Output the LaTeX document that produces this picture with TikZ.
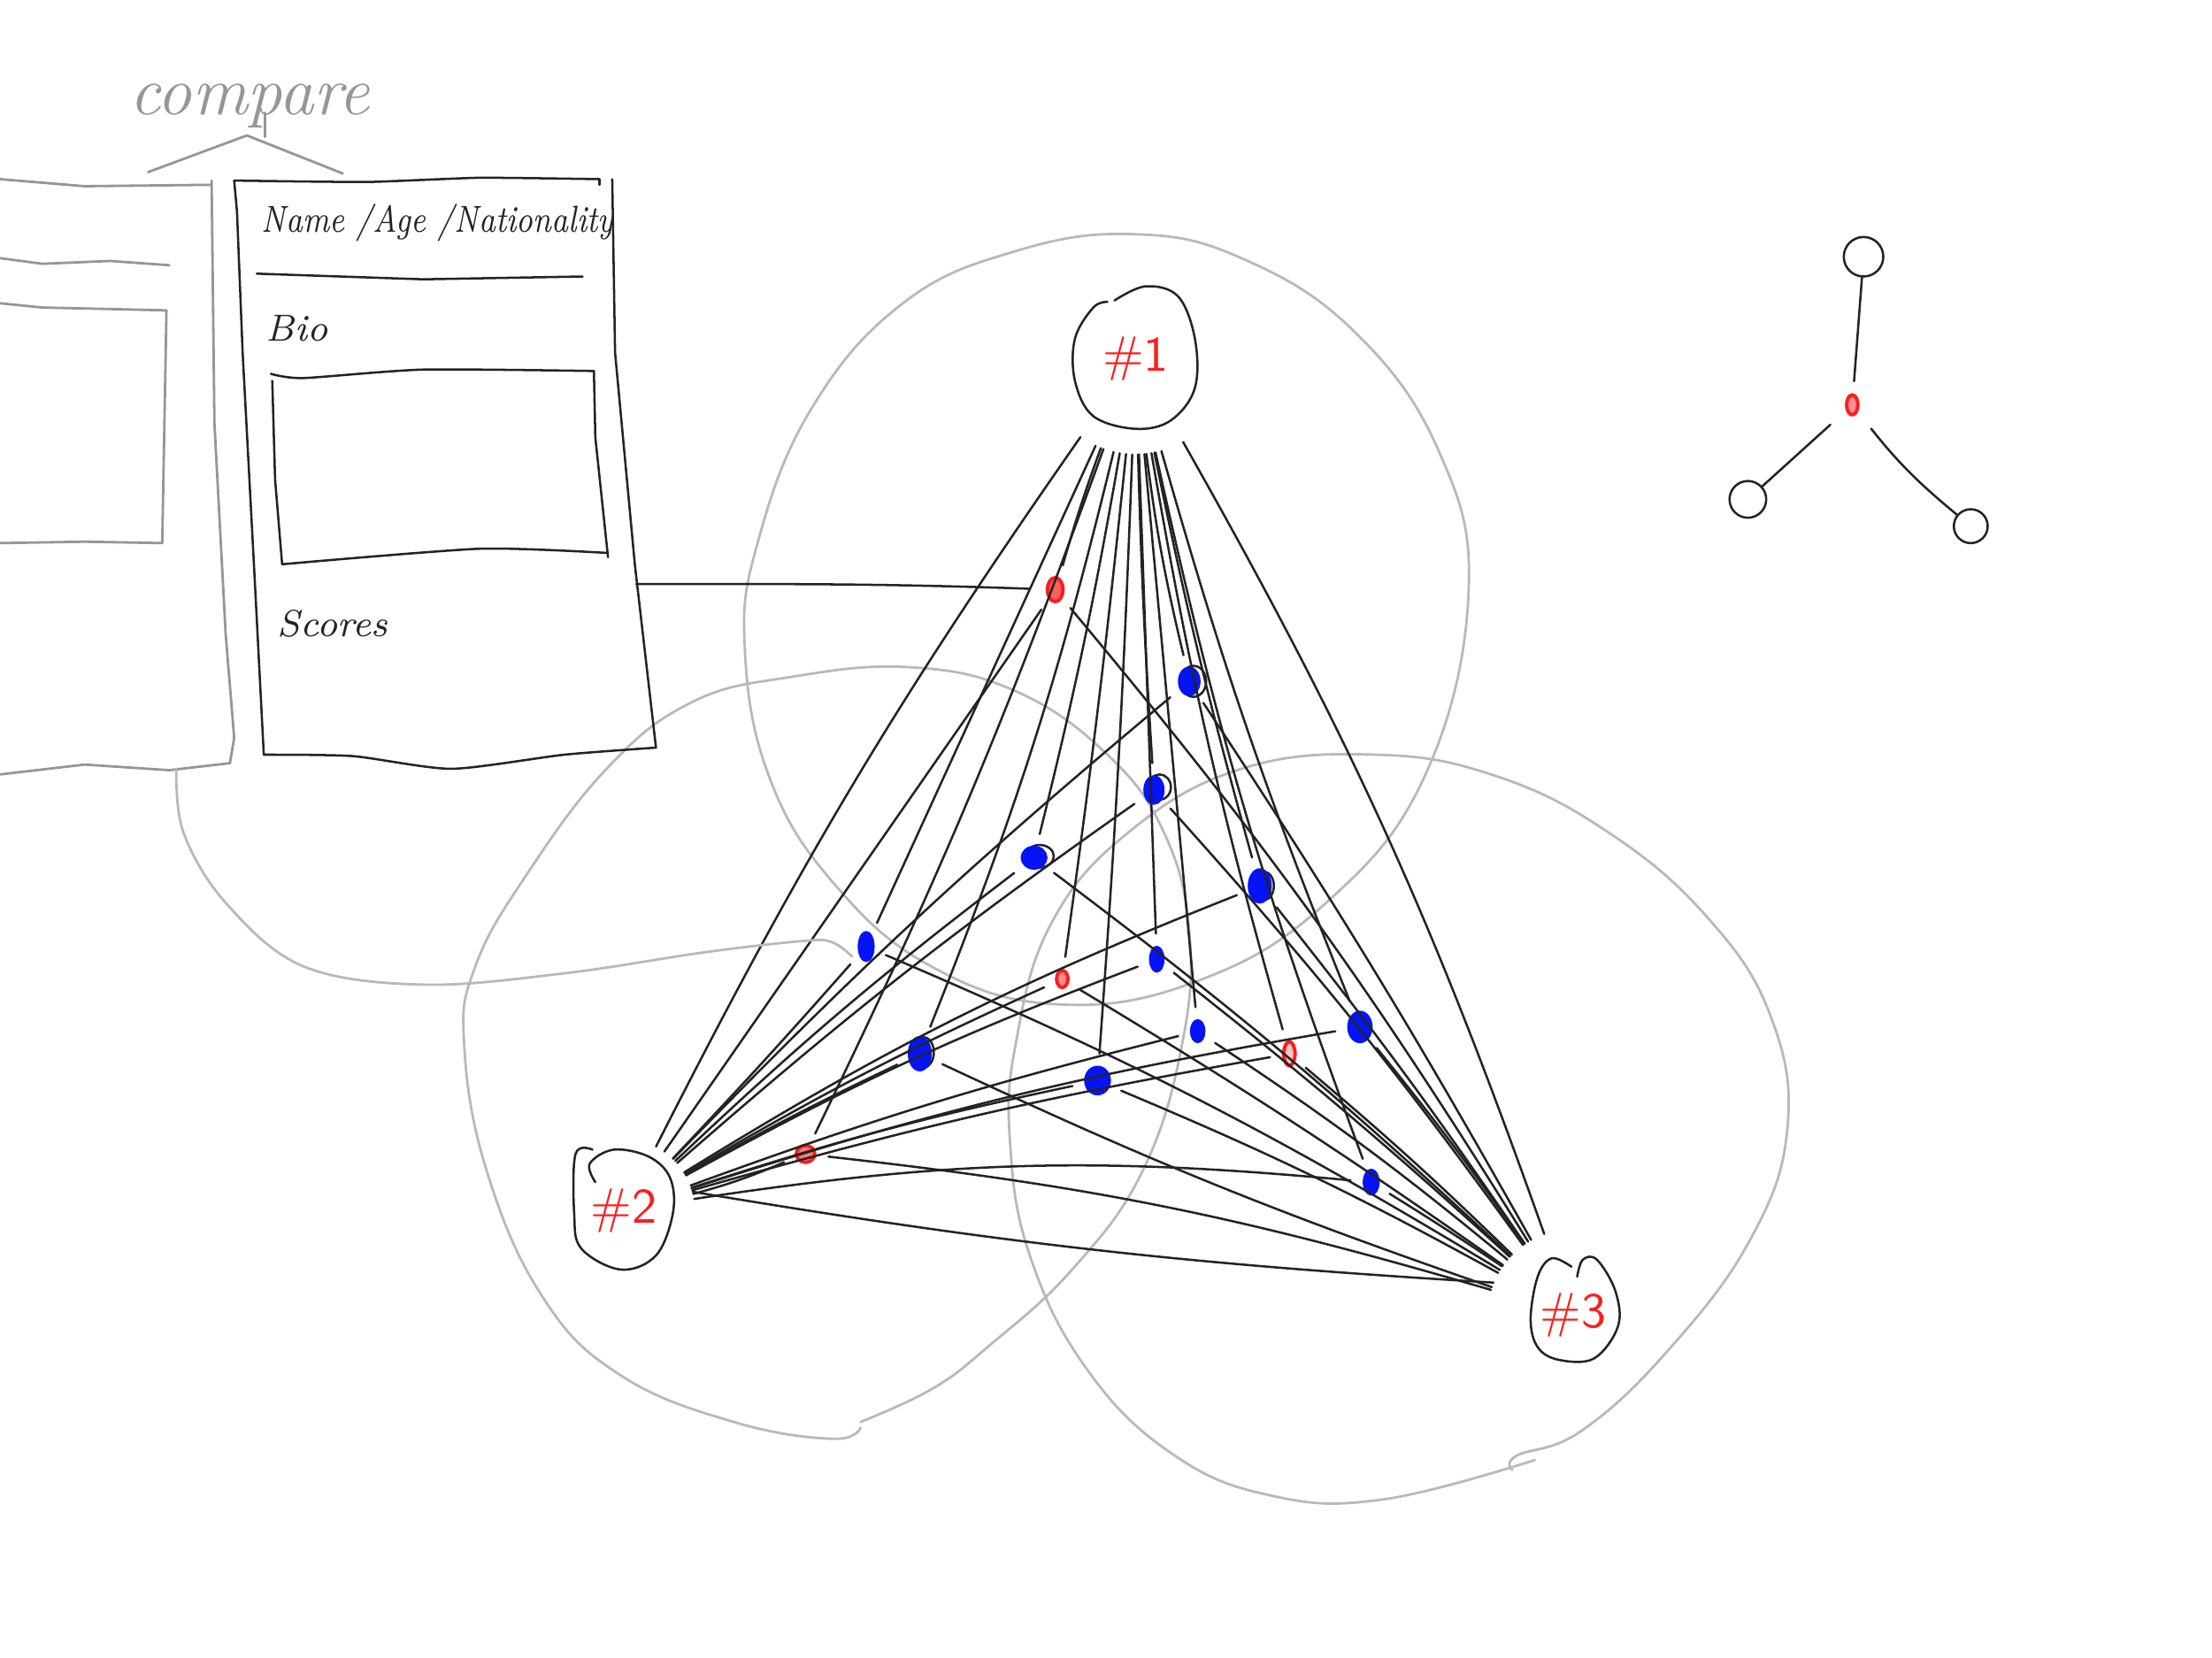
\documentclass[tikz,border=0pt]{standalone}
\usepackage{xcolor}
\usepackage{tikz}
\usetikzlibrary{
  shapes.geometric,
  positioning
}
\definecolor{inkblack}{RGB}{35, 35, 35}
\definecolor{inkgray}{RGB}{185, 185, 185}
\definecolor{cardgray}{RGB}{150, 150, 150}
\definecolor{spotblue}{RGB}{5, 20, 245}
\definecolor{spotred}{RGB}{250, 30, 30}
\tikzset{
  ink/.style    = {draw=inkblack, line width=0.45pt, line join=round, line cap=round},
  faint/.style  = {draw=inkgray, line width=0.5pt, line join=round, line cap=round},
  fcard/.style  = {draw=cardgray, line width=0.5pt, line join=round, line cap=round},
  person/.style = {circle, minimum size=#1, inner sep=0pt, text=spotred,
    font=\fontsize{10}{12}\selectfont\sffamily},
  person/.default = 1.1cm,
  bluespot/.style = {ellipse, draw=spotblue, line width=0.3pt, fill=spotblue,
    inner sep=0pt, outer sep=2.6pt},
  redspot/.style = {ellipse, draw=spotred, line width=0.7pt, fill=spotred!#1,
    inner sep=0pt, outer sep=2.8pt},
  redspot/.default = 35,
  cardtext/.style = {inner sep=0pt, text=inkblack,
    font=\fontsize{7.6}{9}\selectfont\itshape},
  tinyblob/.style = {circle, ink, inner sep=0pt, minimum size=#1},
}

\begin{document}
\begin{tikzpicture}[x=0.01cm, y=-0.01cm]
  \useasboundingbox (0,0) rectangle (1568,1175);

  %% big rings
  \draw[faint] plot[smooth cycle, tension=0.7] coordinates {(803,166) (720,178) (640,215)
    (575,290) (537,385) (528,460) (545,550) (590,625) (660,685) (750,712) (850,695)
    (940,640) (1010,550) (1041,420) (1020,320) (960,235) (880,183)};
  \draw[faint] plot[smooth, tension=0.7] coordinates {(610,1012) (590,1020) (520,1008)
    (440,975) (385,920) (345,830) (329,740) (337,685) (372,622) (430,545) (490,498) (560,480)
    (645,473) (720,490) (785,535) (825,590) (843,660) (838,740) (810,830) (760,900)
    (700,955) (660,985) (610,1008)};
  \draw[faint] plot[smooth, tension=0.7] coordinates {(1088,1035) (980,1063) (900,1060)
    (830,1030) (770,970) (730,890) (716,810) (720,740) (745,655) (800,590) (880,545)
    (975,535) (1060,550) (1140,590) (1210,650) (1255,720) (1267,800) (1240,880)
    (1180,960) (1120,1015) (1075,1032) (1072,1042)};

  %% grey card
  \node[inner sep=0pt, text=cardgray, font=\fontsize{14}{16}\selectfont\itshape]
    (cmp) at (177,75) {compare};
  \draw[fcard] (105,122) -- (175,96) -- (243,123);
  \draw[fcard] (188,80) -- (188,97);
  \draw[fcard] (0,127) -- (60,132) -- (150,131) -- (150,128) -- (152,300) -- (160,450)
    -- (166,523) -- (163,541) -- (120,546) -- (60,542) -- (0,549);
  \draw[fcard] (0,183) -- (30,187) -- (78,185) -- (120,188);
  \draw[fcard] (0,215) -- (30,218) -- (118,220) -- (115,385) -- (60,384) -- (0,385);

  %% black card
  \draw[ink] plot[smooth, tension=0.3] coordinates {(166,128) (260,129) (340,126) (425,127)};
  \draw[ink] (425,127) -- (425,131);
  \draw[ink] (166,128) -- (168,150) -- (172,250) -- (180,400) -- (187,535);
  \draw[ink] plot[smooth, tension=0.4] coordinates {(187,535) (250,536) (320,545) (400,535) (465,530)};
  \draw[ink] (434,127) -- (436,250) -- (450,400) -- (465,530);
  \draw[ink] (182,194) -- (300,198) -- (413,196);
  \draw[ink] plot[smooth, tension=0.4] coordinates {(192,265) (215,268) (300,262) (421,263)};
  \draw[ink] (421,263) -- (422,310) -- (431,395);
  \draw[ink] plot[smooth, tension=0.4] coordinates {(200,400) (340,389) (431,392)};
  \draw[ink] (193,270) -- (195,340) -- (200,400);

  \node[cardtext, anchor=west, xscale=0.81, transform shape] (name) at (185,158)
    {Name /Age /Nationality};
  \node[cardtext, below=0.75cm of name.west, anchor=west, xshift=0.03cm] (bio) {Bio};
  \node[cardtext, below=2.09cm of bio.west, anchor=west, xshift=0.08cm] (scores) {Scores};

  %% people
  \node[person=1.35cm] (p1) at (805,254) {\#1\hspace{0.26cm}};
  \node[person=1.0cm] (p2) at (442,858) {\#2};
  \node[person=1.2cm] (p3) at (1115,932) {\#3};
  \draw[ink] plot[smooth, tension=0.6] coordinates {(790,213) (812,203) (835,210) (847,240)
    (847,275) (830,298) (805,304) (775,295) (762,270) (762,240) (775,218) (785,214)};
  \draw[ink] plot[smooth, tension=0.6] coordinates {(420,815) (408,818) (407,860) (412,885)
    (440,900) (465,890) (477,860) (475,835) (460,820) (435,815) (418,825) (422,838)};
  \draw[ink] plot[smooth, tension=0.6] coordinates {(1114,898) (1100,892) (1090,905) (1085,935)
    (1090,955) (1105,964) (1130,963) (1147,940) (1145,915) (1132,893) (1122,893) (1118,905)};

  %% spot rings
  \foreach \x/\y/\w/\h in {846/483/9/11, 822/558/8/9, 737/607/10/8, 654/746/8/11, 896/628/7/10}
    \draw[ink] (\x,\y) ellipse (\w*1 and \h*1);

  %% spots
  \foreach \n/\x/\y/\w/\h in {2/843/483/15/20, 3/818/560/14/20, 4/733/608/18/16,
      5/893/628/16/24, 6/614/671/11/21, 7/820/680/10/18, 9/849/731/10/16,
      10/652/747/16/24, 11/778/766/18/20, 13/964/728/17/22, 15/972/838/11/18}
    \node[bluespot, minimum width=\w*0.01cm, minimum height=\h*0.01cm] (d\n) at (\x,\y) {};
  \foreach \n/\x/\y/\w/\h/\r in {1/748/418/11/17/70, 8/753/694/8/12/50, 12/914/747/8/17/25, 14/571/818/13/12/60}
    \node[redspot=\r, minimum width=\w*0.01cm, minimum height=\h*0.01cm] (d\n) at (\x,\y) {};

  %% spot links
  \foreach \n/\a/\b/\c in {1/2/0/4, 2/3/-3/2, 3/1/-3/3, 4/-2/-3/3, 5/2/-5/2, 6/0/1/4,
      7/0/-4/2, 8/-1/-3/2, 9/0/-3/3, 10/-4/-2/-3, 11/-1/-3/3, 12/3/-3/2, 13/3/-4/2,
      14/-3/4/5, 15/4/-7/1} {
    \draw[ink] (d\n) to[bend left=\a] (p1);
    \draw[ink] (d\n) to[bend left=\b] (p2);
    \draw[ink] (d\n) to[bend left=\c] (p3);
  }

  %% direct links
  \draw[ink] (p1) to[bend left=-4] (p2);
  \draw[ink] (p1) to[bend left=5] (p3);
  \draw[ink] (p2.15) to[bend left=-3] (p3.158);

  %% card links
  \coordinate (cardb) at (451,414);
  \coordinate (leftc) at (125,545);
  \draw[ink, shorten >=1pt] (cardb) to[out=0, in=178] (d1);
  \draw[faint] plot[smooth, tension=0.6] coordinates {(leftc) (130,590) (160,640) (215,685)
    (300,698) (400,690) (500,675) (570,667) (590,668) (604,678)};

  %% small graph
  \node[tinyblob=0.28cm] (top) at (1321,182) {};
  \node[tinyblob=0.26cm] (lft) at (1239,354) {};
  \node[tinyblob=0.24cm] (rgt) at (1397,373) {};
  \node[redspot=50, minimum width=0.08cm, minimum height=0.14cm] (s0) at (1313,287) {};
  \draw[ink] (top) -- (s0);
  \draw[ink, shorten <=0.06cm] (s0) -- (lft);
  \draw[ink, shorten <=0.06cm] (s0) to[bend left=-6] (rgt);
\end{tikzpicture}
\end{document}
